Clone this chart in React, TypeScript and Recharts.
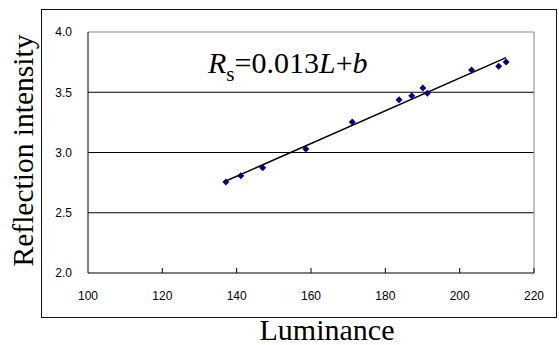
import {
  ComposedChart,
  Scatter,
  Line,
  XAxis,
  YAxis,
  ReferenceLine,
  Customized,
} from "recharts";

const luminance = [137.1, 141.1, 147.0, 158.6, 171.1, 183.7, 187.1, 190.1, 191.3, 203.2, 210.5, 212.5];
const reflection = [2.755, 2.807, 2.874, 3.029, 3.253, 3.438, 3.471, 3.535, 3.491, 3.685, 3.715, 3.751];

// trend line end points
const trendX = [137.1, 212.5];
const trendY = [2.763, 3.787];

const xTicks = [100, 120, 140, 160, 180, 200, 220];
const yTicks = [2.0, 2.5, 3.0, 3.5, 4.0];
const gridLines = [2.5, 3.0, 3.5];

const points = luminance.map((x, i) => ({ x, y: reflection[i] }));
const trend = trendX.map((x, i) => ({ x, y: trendY[i] }));

const sans = "'Liberation Sans', Arial, sans-serif";
const serif = "'Liberation Serif', Tinos, 'DejaVu Serif', serif";

const Diamond = (props: any) => {
  const { cx, cy } = props;
  const r = 3.5;
  return (
    <polygon
      points={`${cx},${cy - r} ${cx + r},${cy} ${cx},${cy + r} ${cx - r},${cy}`}
      fill="#000080"
    />
  );
};

const XTick = (props: any) => {
  const { x, y, payload } = props;
  return (
    <g>
      {payload.value > 100 && (
        <line x1={x} y1={y} x2={x} y2={y - 5} stroke="#000" strokeWidth={1} />
      )}
      <text x={x} y={y + 18} dy="0.71em" textAnchor="middle" fontSize={12} fontFamily={sans} fill="#000">
        {payload.value}
      </text>
    </g>
  );
};

const Labels = () => (
  <g style={{ fontFamily: serif }}>
    <text x={208} y={73} fontSize={30} fill="#000" style={{ fontFamily: serif }}>
      <tspan fontStyle="italic">R</tspan>
      <tspan fontSize={21} dy={8}>s</tspan>
      <tspan dy={-8}>=0.013</tspan>
      <tspan fontStyle="italic">L</tspan>
      <tspan>+</tspan>
      <tspan fontStyle="italic">b</tspan>
    </text>
    <text x={327} y={340} textAnchor="middle" fontSize={30} fill="#000" style={{ fontFamily: serif }}>
      Luminance
    </text>
    <text
      x={33}
      y={150.5}
      textAnchor="middle"
      transform="rotate(-90, 33, 150.5)"
      fontSize={29.5}
      fill="#000"
      style={{ fontFamily: serif }}
    >
      Reflection intensity
    </text>
  </g>
);

export default function App() {
  return (
    <div style={{ position: "absolute", left: 0, top: 0, width: 559, height: 345, background: "#fff" }}>
      <div
        style={{
          position: "absolute",
          left: 41,
          top: 9,
          width: 516,
          height: 309,
          boxSizing: "border-box",
          border: "1.5px solid #111",
        }}
      />
      <ComposedChart
        width={559}
        height={345}
        margin={{ top: 32, right: 25, bottom: 42, left: 0 }}
        style={{ position: "absolute", left: 0, top: 0 }}
      >
        <XAxis
          type="number"
          dataKey="x"
          domain={[100, 220]}
          ticks={xTicks}
          height={30}
          tickLine={false}
          tickSize={0}
          tickMargin={0}
          axisLine={{ stroke: "#000", strokeWidth: 1 }}
          tick={<XTick />}
        />
        <YAxis
          type="number"
          dataKey="y"
          domain={[2, 4]}
          ticks={yTicks}
          width={88}
          tickLine={false}
          tickSize={0}
          tickMargin={16}
          tickFormatter={(v: number) => v.toFixed(1)}
          axisLine={{ stroke: "#000", strokeWidth: 1 }}
          tick={{ fill: "#000", fontSize: 12, fontFamily: sans }}
        />
        {gridLines.map((v) => (
          <ReferenceLine key={v} y={v} stroke="#000" strokeWidth={1} />
        ))}
        <ReferenceLine y={4} stroke="#888" strokeWidth={1} />
        <ReferenceLine x={220} stroke="#888" strokeWidth={1} />
        <Line
          data={trend}
          dataKey="y"
          stroke="#000"
          strokeWidth={1.5}
          dot={false}
          activeDot={false}
          isAnimationActive={false}
        />
        <Scatter data={points} shape={<Diamond />} isAnimationActive={false} />
        <Customized component={Labels} />
      </ComposedChart>
    </div>
  );
}
